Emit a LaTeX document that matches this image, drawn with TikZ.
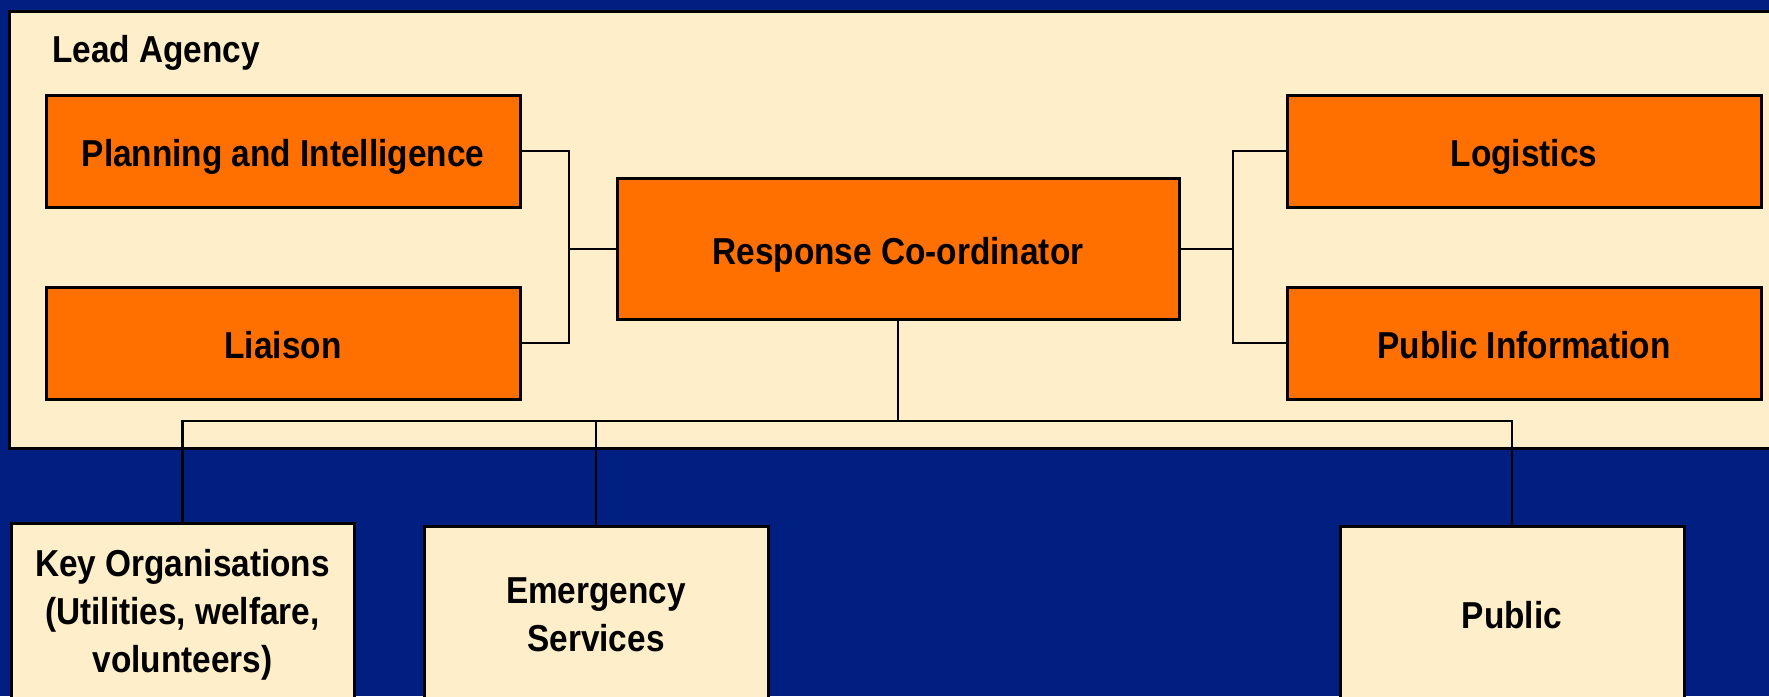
\documentclass[tikz,border=0pt]{standalone}
\usepackage{fontspec}
\setmainfont{Liberation Sans}[FakeStretch=0.89]
\definecolor{navy}{HTML}{001F80}
\definecolor{cream}{HTML}{FFEECA}
\definecolor{boxorange}{HTML}{FF7000}
\tikzset{
  x=1pt, y=-1pt,
  boxfont/.style={font=\fontsize{37.5}{48}\selectfont\bfseries},
  unit/.style={draw=black, line width=3pt, fill=boxorange, inner sep=0pt,
    align=center, boxfont, text height=30pt, text depth=0pt,
    minimum width=474pt, minimum height=112pt},
  partner/.style={draw=black, line width=3pt, fill=cream, inner sep=0pt,
    align=center, boxfont, minimum width=344pt, minimum height=176pt},
  link/.style={draw=black, line width=2.5pt},
}
\begin{document}
\begin{tikzpicture}
  \clip (0,0) rectangle (1769,696);
  \fill[navy] (0,0) rectangle (1769,696);

  % lead agency container
  \draw[line width=3pt, fill=cream] (9,11) rectangle (1785,448);
  \node[anchor=base west, inner sep=0pt, boxfont] (leadlabel) at (52,62) {Lead Agency};

  % units inside the lead agency
  \node[unit] (planning)  at (283,151)  {Planning and Intelligence};
  \node[unit] (liaison)   at (283,343)  {Liaison};
  \node[unit, minimum width=562pt, minimum height=141pt] (resp) at (898,249) {Response Co-ordinator};
  \node[unit] (logistics) at (1524,151) {Logistics};
  \node[unit] (pubinfo)   at (1524,343) {Public Information};

  % partners outside
  \node[partner, minimum width=343pt, minimum height=184pt] (keyorg) at (182.5,615)
    {Key Organisations\\(Utilities, welfare,\\volunteers)};
  \node[partner, minimum height=178pt] (emerg)  at (596,615)  {Emergency\\Services};
  \node[partner, minimum height=178pt] (public) at (1512,615) {Public};

  % connectors
  \coordinate (ljoin) at (569,249);
  \coordinate (rjoin) at (1233,249);
  \coordinate (bus)   at (898,421);
  \draw[link] (planning.east) -| (ljoin) |- (liaison.east);
  \draw[link] (ljoin) -- (resp.west);
  \draw[link] (logistics.west) -| (rjoin) |- (pubinfo.west);
  \draw[link] (rjoin) -- (resp.east);
  \draw[link] (resp.south) -- (bus);
  \draw[link] (keyorg.north) |- (bus) -| (public.north);
  \draw[link] (emerg.north) -- (emerg.north |- bus);
\end{tikzpicture}
\end{document}
